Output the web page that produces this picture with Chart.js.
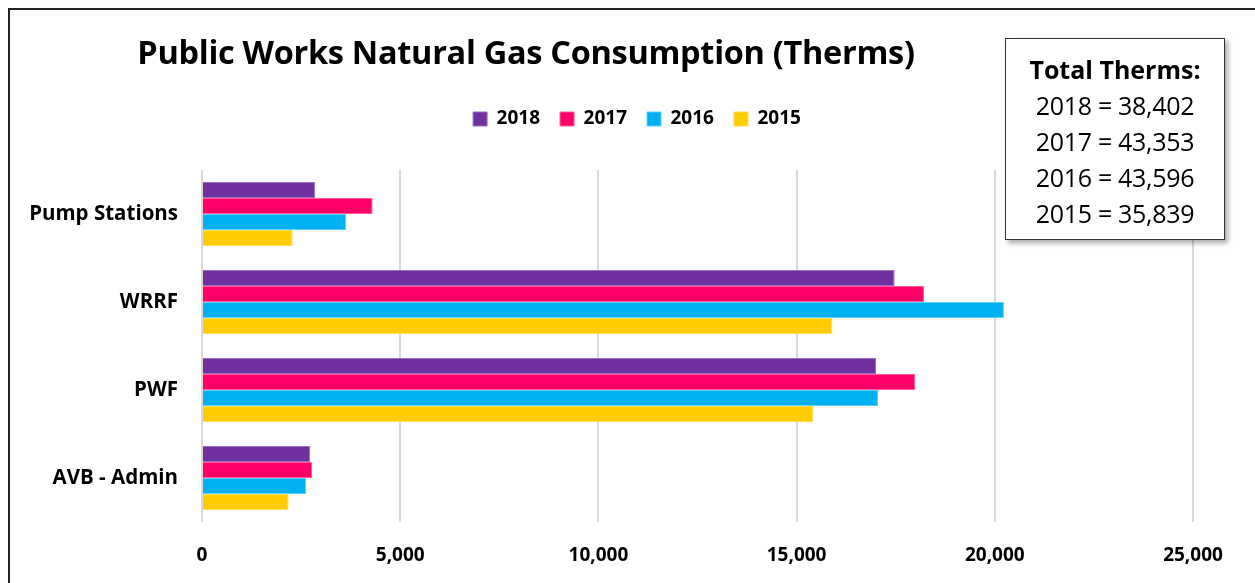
<!DOCTYPE html>
<html>
<head>
<meta charset="utf-8">
<script src="https://cdn.jsdelivr.net/npm/chart.js@4"></script>
<style>
  html, body { margin: 0; padding: 0; background: #fff; }
  body { width: 1255px; height: 583px; position: relative; overflow: hidden; font-family: "Open Sans", sans-serif; }
  #frame { position: absolute; left: 8px; top: 8px; width: 1300px; height: 640px; border-left: 2px solid #222; border-top: 2px solid #222; }
  #chart { position: absolute; left: 0; top: 0; }
  #title { position: absolute; left: 0; width: 1052px; top: 30px; text-align: center; font-weight: bold; font-size: 32.5px; line-height: 44px; color: #000; letter-spacing: -0.3px; }
  #totals { position: absolute; left: 1005px; top: 38px; width: 218px; height: 200px; border: 1px solid #333; background: #fff; box-shadow: 3px 3px 5px rgba(0,0,0,0.35); text-align: center; color: #000; }
  #totals .head { font-weight: bold; font-size: 25px; margin-top: 13px; line-height: 35px; }
  #totals .row { font-size: 25px; line-height: 36px; letter-spacing: -0.3px; }
</style>
</head>
<body>
<div id="frame"></div>
<canvas id="chart" width="1255" height="583"></canvas>
<div id="title">Public Works Natural Gas Consumption (Therms)</div>
<div id="totals"></div>
<script>
document.addEventListener('DOMContentLoaded', () => {

    const categories = ['Pump Stations', 'WRRF', 'PWF', 'AVB - Admin'];
    const seriesNames = ['2018', '2017', '2016', '2015'];
    const values2018 = [2857, 17474, 17003, 2731];
    const values2017 = [4304, 18213, 17995, 2782];
    const values2016 = [3639, 20230, 17053, 2630];
    const values2015 = [2287, 15903, 15423, 2185];
    const colors = ['#7030A0', '#FF0066', '#00B0F0', '#FFCC00'];
    const edgeColors = ['#9B6BC4', '#FF5C99', '#5CCFF7', '#FFDD55'];
    const totals = ['38,402', '43,353', '43,596', '35,839'];
    const xTicks = [0, 5000, 10000, 15000, 20000, 25000];

    const totalsEl = document.getElementById('totals');
    let html = '<div class="head">Total Therms:</div>';
    seriesNames.forEach((name, i) => {
        html += `<div class="row">${name} = ${totals[i]}</div>`;
    });
    totalsEl.innerHTML = html;

    const allValues = [values2018, values2017, values2016, values2015];
    const datasets = seriesNames.map((name, i) => ({
        label: name,
        data: allValues[i],
        backgroundColor: colors[i],
        borderColor: edgeColors[i],
        borderWidth: 1,
        categoryPercentage: 0.725,
        barPercentage: 1.0
    }));

    // the legend sits a bit right of the plot centre and closer to the title
    const legendShift = {
        id: 'legendShift',
        afterLayout(chart) {
            const lg = chart.legend;
            if (!lg) return;
            const dx = 637 - (lg.left + lg.right) / 2;
            const dy = 114 - (lg.top + lg.bottom) / 2;
            lg.left += dx; lg.right += dx;
            lg.top += dy; lg.bottom += dy;
        }
    };

    const ctx = document.getElementById('chart').getContext('2d');
    new Chart(ctx, {
        type: 'bar',
        data: { labels: categories, datasets: datasets },
        plugins: [legendShift],
        options: {
            indexAxis: 'y',
            responsive: false,
            animation: false,
            layout: { padding: { top: 121, left: 12, right: 62, bottom: 18 } },
            scales: {
                x: {
                    min: 0,
                    max: 25000,
                    afterBuildTicks: (scale) => {
                        scale.ticks = xTicks.map(v => ({ value: v }));
                    },
                    afterFit: (scale) => { scale.height = 43; },
                    grid: { color: '#d9d9d9', lineWidth: 2, drawTicks: false },
                    border: { display: false },
                    ticks: {
                        padding: 22,
                        color: '#000',
                        maxRotation: 0,
                        font: { family: 'Open Sans', size: 19, weight: 'bold' },
                        callback: (v) => v.toLocaleString('en-US')
                    }
                },
                y: {
                    afterFit: (scale) => { scale.width = 190; },
                    grid: { display: false, drawTicks: false },
                    border: { display: false },
                    ticks: {
                        padding: 24,
                        color: '#000',
                        font: { family: 'Open Sans', size: 20.5, weight: 'bold' }
                    }
                }
            },
            plugins: {
                title: { display: false },
                tooltip: { enabled: false },
                legend: {
                    position: 'top',
                    labels: {
                        boxWidth: 14,
                        boxHeight: 14,
                        padding: 20,
                        color: '#000',
                        font: { family: 'Open Sans', size: 19, weight: 'bold' }
                    }
                }
            }
        }
    });
});
</script>
</body>
</html>
